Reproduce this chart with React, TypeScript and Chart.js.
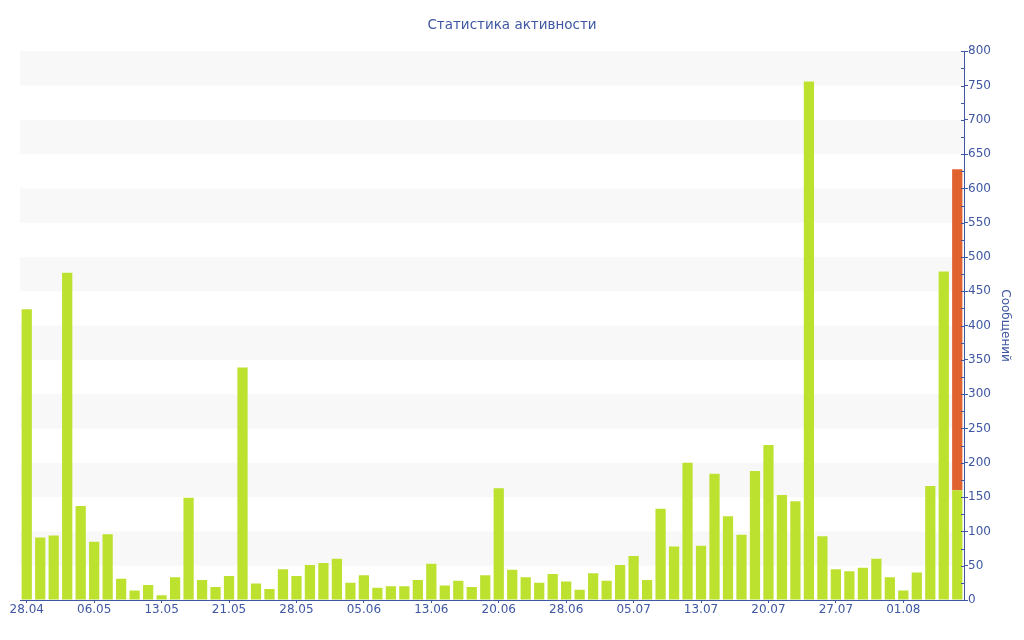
import React, { useEffect, useRef } from "react";
import { Chart, registerables } from "chart.js";

Chart.register(...registerables);

const dates = [
  "28.04", "29.04", "30.04", "02.05", "04.05",
  "06.05", "07.05", "08.05", "10.05", "11.05",
  "13.05", "14.05", "16.05", "18.05", "19.05",
  "21.05", "22.05", "24.05", "25.05", "27.05",
  "28.05", "29.05", "31.05", "01.06", "03.06",
  "05.06", "06.06", "08.06", "10.06", "11.06",
  "13.06", "14.06", "16.06", "17.06", "18.06",
  "20.06", "21.06", "23.06", "25.06", "26.06",
  "28.06", "29.06", "01.07", "02.07", "04.07",
  "05.07", "07.07", "09.07", "10.07", "11.07",
  "13.07", "14.07", "16.07", "17.07", "18.07",
  "20.07", "21.07", "23.07", "24.07", "25.07",
  "27.07", "28.07", "29.07", "30.07", "31.07",
  "01.08", "02.08", "03.08", "04.08", "05.08",
];

const messages = [
  424, 91, 94, 477, 137, 85, 96, 31, 14, 22,
  7, 33, 149, 29, 19, 35, 339, 24, 16, 45,
  35, 51, 54, 60, 25, 36, 18, 20, 20, 29,
  53, 21, 28, 19, 36, 163, 44, 33, 25, 38,
  27, 15, 39, 28, 51, 64, 29, 133, 78, 200,
  79, 184, 122, 95, 188, 226, 153, 144, 756, 93,
  45, 42, 47, 60, 33, 14, 40, 166, 479, 160,
];

// extra messages on the last (current) day, stacked on top in orange
const lastDayExtra = 468;

const yTickStep = 25;
const yLabelStep = 50;
const yMax = 800;
const xLabelEvery = 5;

const BLUE = "#3f57a3";
const GREEN = "#bde12f";
const ORANGE = "#e0632f";
const BAND = "#f8f8f8";
const FONT = "'DejaVu Sans', Verdana, sans-serif";

const bandsPlugin = {
  id: "bands",
  beforeDatasetsDraw(chart: any) {
    const { ctx, chartArea, scales } = chart;
    const y = scales.y;
    ctx.save();
    ctx.fillStyle = BAND;
    for (let v = 50; v < yMax; v += 100) {
      const top = y.getPixelForValue(v + 50);
      const bottom = y.getPixelForValue(v);
      ctx.fillRect(chartArea.left, top, chartArea.right - chartArea.left, bottom - top);
    }
    ctx.restore();
  },
  afterDraw(chart: any) {
    const { ctx, chartArea, scales } = chart;
    const y = scales.y;
    ctx.save();
    ctx.strokeStyle = BLUE;
    ctx.lineWidth = 1;
    for (let v = 0; v <= yMax; v += yTickStep) {
      const py = Math.round(y.getPixelForValue(v)) + 0.5;
      ctx.beginPath();
      ctx.moveTo(chartArea.right - 3, py);
      ctx.lineTo(chartArea.right, py);
      ctx.stroke();
    }
    ctx.restore();
  },
};

export default function App() {
  const ref = useRef<HTMLCanvasElement | null>(null);

  useEffect(() => {
    if (!ref.current) return;
    const last = dates.length - 1;
    const chart = new Chart(ref.current, {
      type: "bar",
      data: {
        labels: dates,
        datasets: [
          {
            label: "Сообщений",
            data: messages,
            xAxisID: "x",
            yAxisID: "y",
            backgroundColor: GREEN,
            borderWidth: 0,
            barPercentage: 0.76,
            categoryPercentage: 1,
          },
          {
            label: "Сегодня",
            data: dates.map((_, i) => (i === last ? lastDayExtra : null)),
            xAxisID: "x",
            yAxisID: "y",
            backgroundColor: ORANGE,
            borderWidth: 0,
            barPercentage: 0.76,
            categoryPercentage: 1,
          },
        ],
      },
      options: {
        animation: false,
        responsive: false,
        maintainAspectRatio: false,
        layout: { padding: { left: 0, right: 0, top: 0, bottom: 0 } },
        plugins: {
          legend: { display: false },
          tooltip: { enabled: false },
          title: {
            display: true,
            text: "Статистика активности",
            color: BLUE,
            font: { family: FONT, size: 13.5, weight: "normal" },
            padding: { top: 17, bottom: 18 },
          },
        },
        scales: {
          x: {
            stacked: true,
            offset: true,
            grid: {
              display: true,
              drawOnChartArea: false,
              offset: false,
              tickLength: 3,
              tickColor: (ctx: any) => (ctx.index % xLabelEvery === 0 ? BLUE : "transparent"),
            },
            border: { display: true, color: BLUE, width: 1 },
            ticks: {
              autoSkip: false,
              maxRotation: 0,
              minRotation: 0,
              padding: 0,
              color: BLUE,
              font: { family: FONT, size: 12 },
              callback: (_v: any, i: number) => (i % xLabelEvery === 0 ? dates[i] : ""),
            },
            afterFit: (scale: any) => {
              scale.height = 40;
            },
          },
          y: {
            stacked: true,
            position: "right",
            min: 0,
            max: yMax,
            grid: {
              display: true,
              drawOnChartArea: false,
              tickLength: 4,
              tickColor: (ctx: any) =>
                ctx.tick && ctx.tick.value % yLabelStep === 0 ? BLUE : "transparent",
            },
            border: { display: true, color: BLUE, width: 1 },
            ticks: {
              stepSize: yTickStep,
              autoSkip: false,
              padding: 0,
              color: BLUE,
              font: { family: FONT, size: 12 },
              callback: (v: any) => (Number(v) % yLabelStep === 0 ? String(v) : ""),
            },
            title: {
              display: true,
              text: "Сообщений",
              color: BLUE,
              font: { family: FONT, size: 12 },
              padding: { top: 12, bottom: 0 },
            },
            afterFit: (scale: any) => {
              scale.width = 60;
            },
          },
          spacer: {
            type: "linear",
            position: "left",
            display: true,
            min: 0,
            max: 1,
            grid: { display: false, drawTicks: false },
            border: { display: false },
            ticks: { display: false },
            afterFit: (scale: any) => {
              scale.width = 20;
            },
          },
        },
      },
      plugins: [bandsPlugin],
    } as any);
    return () => chart.destroy();
  }, []);

  return (
    <div style={{ position: "fixed", left: 0, top: 0, width: 1024, height: 640, background: "#fff" }}>
      <canvas ref={ref} width={1024} height={640} style={{ width: 1024, height: 640 }} />
    </div>
  );
}
